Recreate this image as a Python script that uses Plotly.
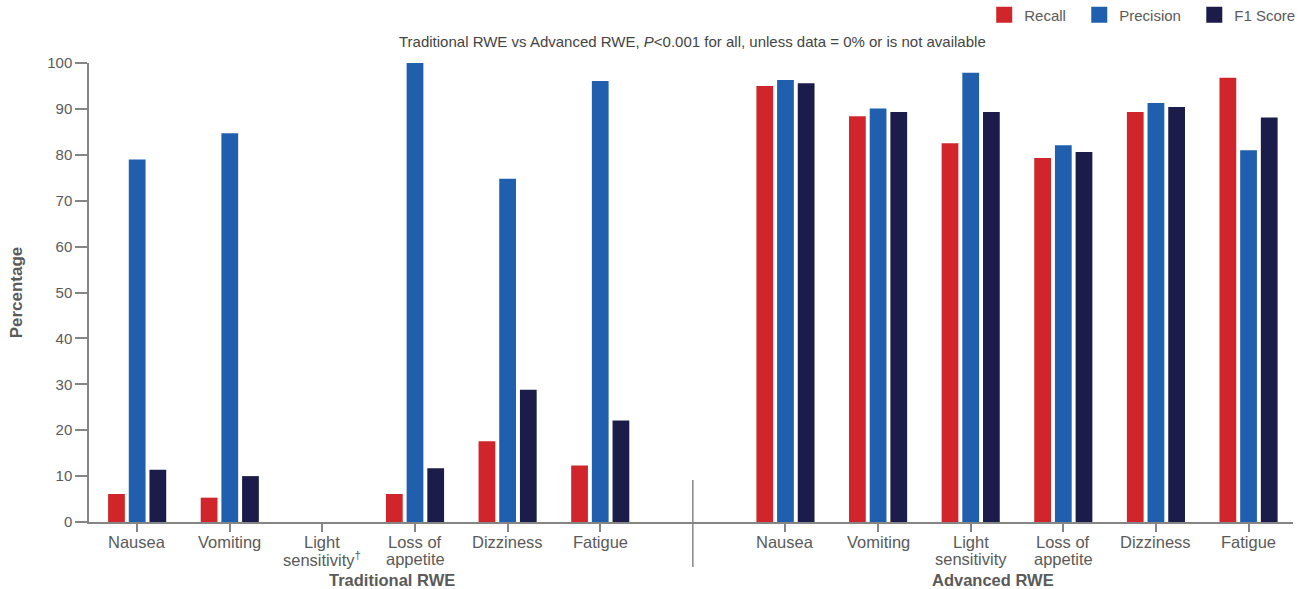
import plotly.graph_objects as go

label_line1 = ["Nausea", "Vomiting", "Light", "Loss of", "Dizziness", "Fatigue",
               "Nausea", "Vomiting", "Light", "Loss of", "Dizziness", "Fatigue"]
label_line2 = ["", "", "sensitivity<sup>†</sup>", "appetite", "", "",
               "", "", "sensitivity", "appetite", "", ""]
groups = ["Traditional RWE", "Advanced RWE"]

recall_trad = [6.1, 5.3, None, 6.1, 17.6, 12.3]
precision_trad = [79.0, 84.7, None, 100.0, 74.8, 96.1]
f1_trad = [11.4, 10.0, None, 11.7, 28.8, 22.1]

recall_adv = [95.0, 88.4, 82.5, 79.3, 89.3, 96.8]
precision_adv = [96.3, 90.1, 97.9, 82.1, 91.3, 81.0]
f1_adv = [95.6, 89.3, 89.3, 80.6, 90.4, 88.1]

series = [
    ("Recall", recall_trad + recall_adv, "#D0262B"),
    ("Precision", precision_trad + precision_adv, "#1F5FAD"),
    ("F1 Score", f1_trad + f1_adv, "#1C1C4B"),
]

# positions: 6 traditional, a gap slot, 6 advanced
xpos = list(range(0, 6)) + list(range(7, 13))
x_min, x_max = -0.52, 12.48
sep_x = 6

gray = "#5A5A5A"
axis_gray = "#858585"
font_family = "Liberation Sans, Arial, sans-serif"
NB = "\u00a0"

fig = go.Figure()
for name, vals, color in series:
    fig.add_trace(go.Bar(x=xpos, y=vals, name=name, showlegend=False,
                         marker=dict(color=color, line=dict(width=0))))
pad = [NB * 2, NB * 2, ""]
for (name, vals, color), p in zip(series, pad):
    fig.add_trace(go.Scatter(x=[None], y=[None], mode="markers", name=name + p,
                             marker=dict(symbol="square", size=16, color=color, line=dict(width=0))))

W, H = 1308, 589
m_l, m_r, m_t, m_b = 89, 15, 63, 67
plot_h = H - m_t - m_b
fig.update_layout(
    barmode="group",
    bargap=0.33,
    bargroupgap=0.19,
    width=W, height=H,
    margin=dict(l=m_l, r=m_r, t=m_t, b=m_b, autoexpand=False),
    paper_bgcolor="white", plot_bgcolor="white",
    font=dict(family=font_family, color=gray, size=15),
    showlegend=True,
    legend=dict(orientation="h", x=1.006, xanchor="right", y=1 + 48 / plot_h, yanchor="middle",
                font=dict(size=15, color=gray), traceorder="normal", bgcolor="rgba(0,0,0,0)"),
    xaxis=dict(range=[x_min, x_max], tickmode="array", tickvals=xpos, showticklabels=False,
               automargin=False,
               showline=True, linecolor=axis_gray, linewidth=1.5, ticks="outside", ticklen=8,
               tickcolor=axis_gray, tickwidth=1.5, showgrid=False, zeroline=False),
    yaxis=dict(range=[0, 100], dtick=10, showline=True, linecolor=axis_gray, linewidth=1.5,
               automargin=False,
               ticks="outside", ticklen=12, tickcolor=axis_gray, tickwidth=1.5, showgrid=False, zeroline=False,
               tickfont=dict(size=15, color=gray),
               title=dict(text="<b>Percentage</b>", font=dict(size=17, color=gray), standoff=20)),
)

# category labels (two lines, tight spacing as in the reference)
for x, l1, l2 in zip(xpos, label_line1, label_line2):
    fig.add_annotation(text=l1, xref="x", yref="paper", x=x, y=-20 / plot_h, xanchor="center",
                       yanchor="middle", showarrow=False, font=dict(size=16.5, color=gray))
    if l2:
        fig.add_annotation(text=l2, xref="x", yref="paper", x=x, y=-37 / plot_h, xanchor="center",
                           yanchor="middle", showarrow=False, font=dict(size=16.5, color=gray))

frac = (sep_x - x_min) / (x_max - x_min)
fig.add_shape(type="line", xref="paper", yref="paper", x0=frac, x1=frac,
              y0=(522 - 480) / plot_h, y1=-(567 - 522) / plot_h,
              line=dict(color=axis_gray, width=1.5))

fig.add_annotation(text="Traditional RWE vs Advanced RWE, <i>P</i><0.001 for all, unless data = 0% or is not available",
                   xref="paper", yref="paper", x=frac, y=1 + 22 / plot_h, xanchor="center", yanchor="middle",
                   showarrow=False, font=dict(size=15, color="#444444"))

fig.add_annotation(text="<b>" + groups[0] + "</b>", xref="x", yref="paper", x=2.75, y=-58 / plot_h,
                   xanchor="center", yanchor="middle", showarrow=False, font=dict(size=16.5, color=gray))
fig.add_annotation(text="<b>" + groups[1] + "</b>", xref="x", yref="paper", x=9.24, y=-58 / plot_h,
                   xanchor="center", yanchor="middle", showarrow=False, font=dict(size=16.5, color=gray))

fig.write_html("out.html", config={"displayModeBar": False},
               post_script="document.body.style.margin='0';")
